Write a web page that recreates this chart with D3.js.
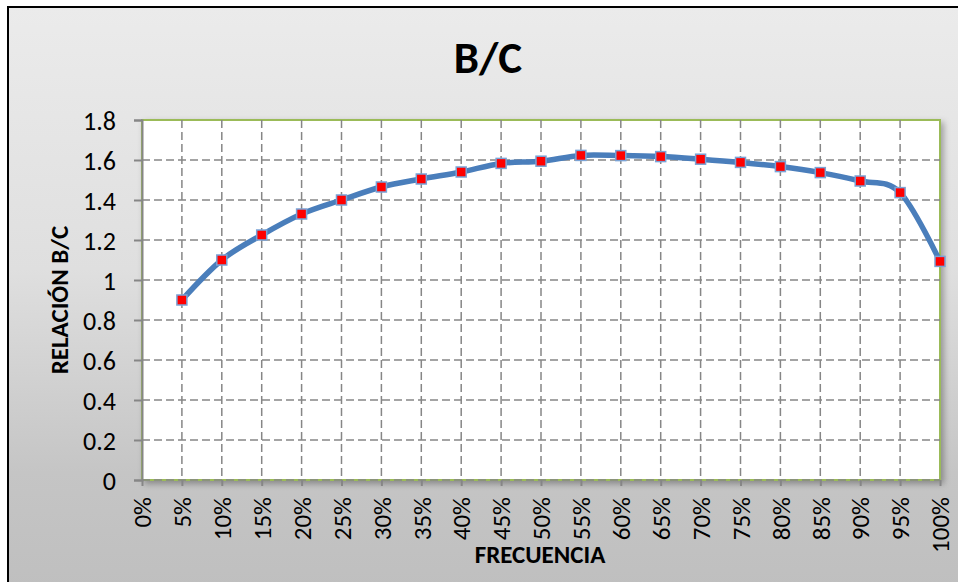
<!DOCTYPE html>
<html>
<head>
<meta charset="utf-8">
<script src="https://cdn.jsdelivr.net/npm/d3@7"></script>
<style>
  html, body { margin: 0; padding: 0; background: #ffffff; }
  svg { display: block; }
  text { font-family: Carlito, Lato, "Liberation Sans", sans-serif; fill: #000; }
</style>
</head>
<body>
<svg id="chart" width="958" height="582"></svg>
<script>
// Frequency categories (x axis) and B/C ratio values
const categories = ["0%", "5%", "10%", "15%", "20%", "25%", "30%", "35%", "40%", "45%", "50%",
                    "55%", "60%", "65%", "70%", "75%", "80%", "85%", "90%", "95%", "100%"];
const frequency = [5, 10, 15, 20, 25, 30, 35, 40, 45, 50, 55, 60, 65, 70, 75, 80, 85, 90, 95, 100];
const ratioBC = [0.90, 1.10, 1.225, 1.33, 1.40, 1.465, 1.505, 1.54, 1.583, 1.594, 1.623,
                 1.622, 1.617, 1.604, 1.588, 1.567, 1.537, 1.495, 1.437, 1.093];
const yTicks = [0, 0.2, 0.4, 0.6, 0.8, 1, 1.2, 1.4, 1.6, 1.8];

const chartTitle = "B/C";
const xTitle = "FRECUENCIA";
const yTitle = "RELACIÓN B/C";

const svg = d3.select("#chart");
const W = 958, H = 582;
const plot = { left: 142, top: 120, right: 940, bottom: 480 };

const defs = svg.append("defs");
const grad = defs.append("linearGradient")
  .attr("id", "bg").attr("x1", 0).attr("y1", 0).attr("x2", 0).attr("y2", 1);
grad.append("stop").attr("offset", "0").attr("stop-color", "#ebebeb");
grad.append("stop").attr("offset", "0.45").attr("stop-color", "#dfdfdf");
grad.append("stop").attr("offset", "0.8").attr("stop-color", "#c5c5c5");
grad.append("stop").attr("offset", "1").attr("stop-color", "#bfbfbf");

const shadow = defs.append("filter").attr("id", "shadow")
  .attr("x", "-5%").attr("y", "-5%").attr("width", "115%").attr("height", "120%");
shadow.append("feDropShadow").attr("dx", 3).attr("dy", 3).attr("stdDeviation", 3)
  .attr("flood-color", "#000").attr("flood-opacity", 0.3);

// Chart area background with outer border
svg.append("rect")
  .attr("x", 8).attr("y", 7).attr("width", W).attr("height", H)
  .attr("fill", "url(#bg)").attr("stroke", "#000").attr("stroke-width", 2);

const x = d3.scaleLinear().domain([0, 100]).range([plot.left, plot.right]);
const y = d3.scaleLinear().domain([0, 1.8]).range([plot.bottom, plot.top]);

// Plot area
svg.append("rect")
  .attr("x", plot.left).attr("y", plot.top)
  .attr("width", plot.right - plot.left).attr("height", plot.bottom - plot.top)
  .attr("fill", "#fff").attr("stroke", "#9bbb59").attr("stroke-width", 2)
  .attr("filter", "url(#shadow)");

// Gridlines
const grid = svg.append("g").attr("stroke", "#868686").attr("stroke-width", 1.5)
  .attr("stroke-dasharray", "8,4").attr("fill", "none");
grid.selectAll("line.h").data(yTicks.filter(d => d < 1.8)).join("line")
  .attr("class", "h")
  .attr("x1", plot.left).attr("x2", plot.right)
  .attr("y1", d => y(d)).attr("y2", d => y(d));
grid.selectAll("line.v").data(d3.range(5, 100, 5)).join("line")
  .attr("class", "v")
  .attr("y1", plot.top).attr("y2", plot.bottom)
  .attr("x1", d => x(d)).attr("x2", d => x(d));

// Y axis
const yAxis = svg.append("g").attr("transform", `translate(${plot.left},0)`)
  .call(d3.axisLeft(y).tickValues(yTicks).tickSize(8).tickPadding(18)
    .tickFormat(d => d3.format("")(+d.toFixed(1))));
yAxis.select(".domain").attr("stroke", "#868686").attr("stroke-width", 2);
yAxis.selectAll(".tick line").attr("stroke", "#868686").attr("stroke-width", 2);
yAxis.selectAll(".tick text").style("font-size", "26px").attr("dy", "0.35em");

// X axis (ticks and rotated percent labels)
const xAxis = svg.append("g").attr("transform", `translate(0,${plot.bottom})`)
  .call(d3.axisBottom(x).tickValues(d3.range(0, 101, 5)).tickSize(6)
    .tickFormat((d, i) => categories[i]));
xAxis.select(".domain").remove();
xAxis.selectAll(".tick line").attr("stroke", "#868686").attr("stroke-width", 2);
xAxis.selectAll(".tick text")
  .style("font-size", "25px")
  .attr("text-anchor", "end")
  .attr("transform", "rotate(-90)")
  .attr("x", -17).attr("y", 0).attr("dy", "0.35em");

// Smoothed series line
const line = d3.line()
  .x((d, i) => x(frequency[i]))
  .y(d => y(d))
  .curve(d3.curveCardinal.tension(0));
svg.append("path").datum(ratioBC)
  .attr("d", line)
  .attr("fill", "none").attr("stroke", "#4a7ebb").attr("stroke-width", 5.5)
  .attr("stroke-linejoin", "round").attr("stroke-linecap", "round");

// Square markers
const ms = 10;
svg.append("g").selectAll("rect").data(ratioBC).join("rect")
  .attr("x", (d, i) => x(frequency[i]) - ms / 2)
  .attr("y", d => y(d) - ms / 2)
  .attr("width", ms).attr("height", ms)
  .attr("fill", "#ff0000").attr("stroke", "#7aa3d6").attr("stroke-width", 1.5);

// Titles
svg.append("text").attr("x", 488).attr("y", 73).attr("text-anchor", "middle")
  .style("font-size", "45px").style("font-weight", "bold").text(chartTitle);
svg.append("text").attr("x", 540).attr("y", 563).attr("text-anchor", "middle")
  .style("font-size", "25px").style("font-weight", "bold").text(xTitle);
svg.append("text").attr("transform", "translate(68,300) rotate(-90)")
  .attr("text-anchor", "middle")
  .style("font-size", "25px").style("font-weight", "bold").text(yTitle);
</script>
</body>
</html>
